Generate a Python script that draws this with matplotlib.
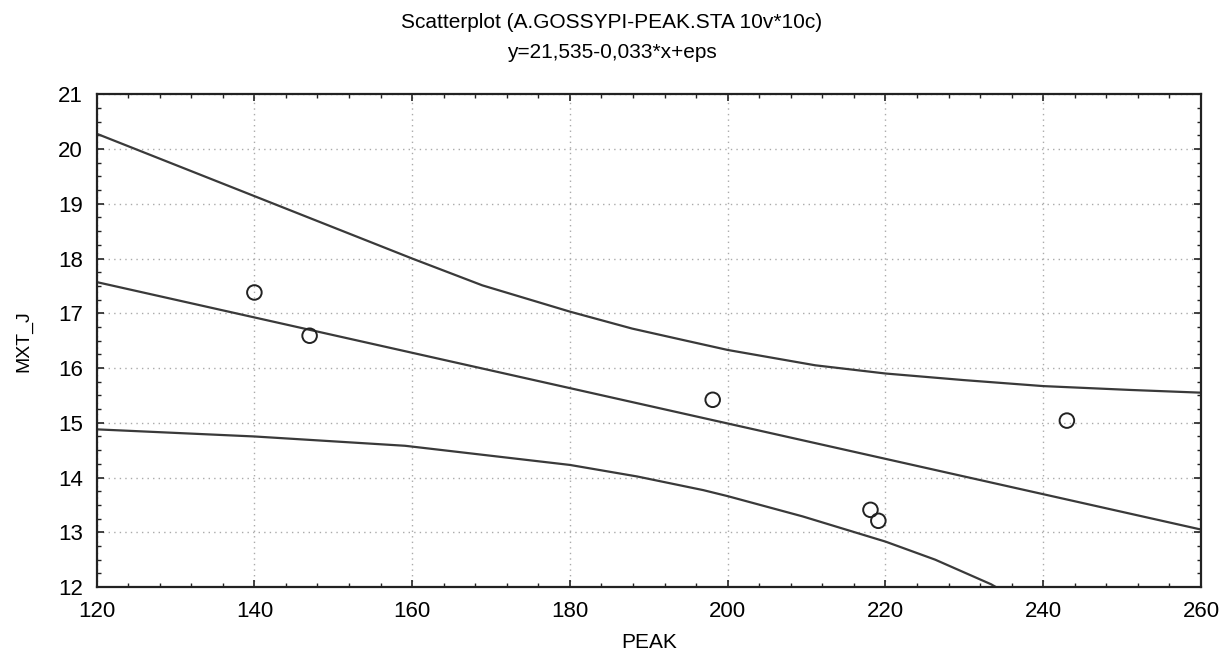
import matplotlib
matplotlib.use("Agg")
import matplotlib.pyplot as plt
from matplotlib.ticker import MultipleLocator

plt.rcParams['font.family'] = ['Liberation Sans', 'DejaVu Sans']

# observed cases
peak = [140.0, 147.0, 198.1, 218.1, 219.1, 243.0]
mxt_j = [17.38, 16.59, 15.42, 13.41, 13.21, 15.04]

# regression line
fit_x = [120, 260]
fit_y = [17.57, 13.05]

# confidence bands
upper_x = [120, 140, 160, 168.9, 180, 187.9, 194.4, 200, 211.1, 220, 229.9, 240, 251, 260]
upper_y = [20.28, 19.14, 18.0, 17.51, 17.03, 16.72, 16.51, 16.33, 16.05, 15.90, 15.78, 15.67, 15.60, 15.55]
lower_x = [120, 140, 159.1, 180, 188.5, 196.9, 200, 209.5, 220, 226.3, 233.4, 234]
lower_y = [14.88, 14.75, 14.58, 14.23, 14.02, 13.77, 13.66, 13.29, 12.83, 12.50, 12.05, 12.0]

fig = plt.figure(figsize=(12.23, 6.57), dpi=100)
ax = fig.add_axes([0.079, 0.1065, 0.903, 0.75])

lc = '#3a3a3a'
ax.plot(upper_x, upper_y, color=lc, lw=1.6)
ax.plot(fit_x, fit_y, color=lc, lw=1.6)
ax.plot(lower_x, lower_y, color=lc, lw=1.6)
ax.scatter(peak, mxt_j, s=110, facecolors='none', edgecolors='#222222', linewidths=1.4, zorder=3)

ax.set_xlim(120, 260)
ax.set_ylim(12, 21)
ax.xaxis.set_major_locator(MultipleLocator(20))
ax.xaxis.set_minor_locator(MultipleLocator(4))
ax.yaxis.set_major_locator(MultipleLocator(1))
ax.yaxis.set_minor_locator(MultipleLocator(0.25))
ax.tick_params(which='both', direction='in', top=True, right=True, labelsize=16, color='#222222')
ax.tick_params(which='major', length=5, width=1.2, pad=10)
ax.tick_params(which='minor', length=3, width=1)
ax.grid(True, which='major', linestyle=(0, (1, 3)), color='#aaaaaa', lw=1)
for s in ax.spines.values():
    s.set_linewidth(1.6)
    s.set_color('#222222')

ax.set_xlabel('PEAK', fontsize=15, labelpad=8)
ax.set_ylabel('MXT_J', fontsize=14, labelpad=18)

fig.text(0.5, 0.965, 'Scatterplot (A.GOSSYPI-PEAK.STA 10v*10c)', ha='center', va='center', fontsize=15)
fig.text(0.5, 0.92, 'y=21,535-0,033*x+eps', ha='center', va='center', fontsize=15)

fig.savefig('out.png', dpi=100)
